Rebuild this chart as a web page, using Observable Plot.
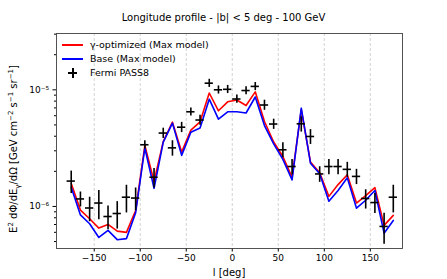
<!DOCTYPE html>
<html><head><meta charset="utf-8">
<script src="https://cdn.jsdelivr.net/npm/d3@7"></script>
<script src="https://cdn.jsdelivr.net/npm/@observablehq/plot@0.6"></script>
<style>
body{margin:0;background:#fff;font-family:"DejaVu Sans",sans-serif;color:#000;}
#wrap{position:relative;width:447px;height:279px;overflow:hidden;}
#title{position:absolute;left:0;width:447px;top:12px;text-align:center;font-size:10px;line-height:12px;white-space:nowrap;}
#ylab{position:absolute;left:14px;top:149px;transform:translate(-50%,-50%) rotate(-90deg);font-size:10px;white-space:nowrap;line-height:12px;}
#xlab{position:absolute;left:229px;top:272px;transform:translate(-50%,-50%);font-size:10px;white-space:nowrap;}
#legend{position:absolute;left:62px;top:38px;font-size:9.5px;line-height:14px;}
.row{position:relative;height:14px;padding-left:28px;white-space:nowrap;}
.ln{position:absolute;left:0;top:6px;width:21px;height:2px;}
.cross{position:absolute;left:6px;top:2px;width:9px;height:10px;}
.cross:before{content:"";position:absolute;left:3.5px;top:0;width:2px;height:10px;background:#000;}
.cross:after{content:"";position:absolute;left:0;top:4px;width:9px;height:2px;background:#000;}
sup,sub{font-size:70%;line-height:0;}
</style></head>
<body>
<div id="wrap">
<div id="title">Longitude profile - |b| &lt; 5 deg - 100 GeV</div>
<div id="chart"></div>
<div id="ylab">E<sup>2</sup> dΦ/dE<sub>γ</sub>/dΩ [GeV cm<sup>−2</sup> s<sup>−1</sup> sr<sup>−1</sup>]</div>
<div id="xlab">l [deg]</div>
<div id="legend">
<div class="row"><span class="ln" style="background:#ff0000"></span>γ-optimized (Max model)</div>
<div class="row"><span class="ln" style="background:#0000ff"></span>Base (Max model)</div>
<div class="row"><span class="cross"></span>Fermi PASS8</div>
</div>
</div>
<script>
const lon = [-175,-165,-155,-145,-135,-125,-115,-105,-95,-85,-75,-65,-55,-45,-35,-25,-15,-5,5,15,25,35,45,55,65,75,85,95,105,115,125,135,145,155,165,175];
const fermi = [1.65e-6,1.16e-6,9.7e-7,1.07e-6,8.2e-7,8.7e-7,1.20e-6,1.18e-6,3.38e-6,1.78e-6,4.26e-6,3.18e-6,4.78e-6,6.48e-6,5.51e-6,1.14e-5,1.0e-5,1.01e-5,8.34e-6,9.86e-6,1.07e-5,7.41e-6,5.09e-6,3.06e-6,2.20e-6,5.11e-6,3.98e-6,1.90e-6,2.20e-6,2.20e-6,2.08e-6,1.81e-6,1.17e-6,1.08e-6,6.74e-7,1.20e-6];
const fermiErr = [3.6e-7,1.7e-7,2.3e-7,3.0e-7,1.9e-7,2.3e-7,3.2e-7,2.6e-7,2.7e-7,3.4e-7,4.3e-7,4.8e-7,4.8e-7,5.2e-7,5.5e-7,9.1e-7,8.0e-7,8.1e-7,6.7e-7,7.9e-7,8.6e-7,7.4e-7,5.1e-7,4.5e-7,3.3e-7,7.7e-7,5.8e-7,2.9e-7,3.3e-7,3.3e-7,3.1e-7,2.7e-7,2.2e-7,2.1e-7,2.0e-7,3.2e-7];
const gammaOpt = [1.57e-6,9.3e-7,7.85e-7,6.52e-7,7.01e-7,6.14e-7,5.99e-7,9.24e-7,3.33e-6,1.64e-6,3.60e-6,5.28e-6,2.93e-6,4.51e-6,5.32e-6,9.39e-6,6.61e-6,7.89e-6,8.18e-6,7.33e-6,9.61e-6,5.35e-6,3.57e-6,2.68e-6,1.78e-6,6.75e-6,2.40e-6,1.94e-6,1.22e-6,1.54e-6,1.87e-6,1.07e-6,1.24e-6,1.45e-6,6.88e-7,8.38e-7];
const base = [1.46e-6,8.46e-7,7.11e-7,5.42e-7,6.23e-7,5.19e-7,5.30e-7,8.83e-7,3.17e-6,1.43e-6,3.56e-6,5.18e-6,2.74e-6,4.33e-6,4.71e-6,8.31e-6,5.60e-6,6.48e-6,6.48e-6,6.33e-6,8.68e-6,4.94e-6,3.44e-6,2.53e-6,1.69e-6,6.96e-6,2.35e-6,1.91e-6,1.11e-6,1.37e-6,1.76e-6,9.67e-7,1.13e-6,1.37e-6,5.90e-7,7.59e-7];
const xTicks = [-150,-100,-50,0,50,100,150];
const yMajor = [1e-6,1e-5];
const yMajorLabels = ["10\u207B\u2076","10\u207B\u2075"];
const yMinor = [5e-7,6e-7,7e-7,8e-7,9e-7,2e-6,3e-6,4e-6,5e-6,6e-6,7e-6,8e-6,9e-6,2e-5,3e-5];

const rows = lon.map((l,i)=>({l, f:fermi[i], e:fermiErr[i], g:gammaOpt[i], b:base[i]}));

const chart = Plot.plot({
  width:447, height:279,
  marginTop:33, marginBottom:31, marginLeft:56, marginRight:45,
  style:{fontFamily:"DejaVu Sans", fontSize:"9px", color:"#000", background:"transparent"},
  x:{domain:[-191,185]},
  y:{type:"log", domain:[4.36e-7,3.04e-5]},
  marks:[
    Plot.gridX(xTicks,{stroke:"#b0b0b0", strokeOpacity:0.7, strokeDasharray:"3,2", strokeWidth:0.8}),
    Plot.line(rows,{x:"l", y:"g", stroke:"#ff0000", strokeWidth:1.6}),
    Plot.line(rows,{x:"l", y:"b", stroke:"#0000ff", strokeWidth:1.6}),
    Plot.ruleX(rows,{x:"l", y1:d=>d.f-d.e, y2:d=>d.f+d.e, stroke:"#000", strokeWidth:1.6}),
    Plot.ruleY(rows,{y:"f", x1:d=>d.l-4.5, x2:d=>d.l+4.5, stroke:"#000", strokeWidth:1.6}),
    Plot.axisX(xTicks,{tickSize:3.5, tickPadding:3, label:null, fontSize:9, tickFormat:d=>d<0?"\u2212"+Math.abs(d):String(d)}),
    Plot.axisY(yMajor,{tickSize:3.5, tickPadding:4, label:null, fontSize:9, tickFormat:d=>yMajorLabels[yMajor.indexOf(d)]}),
    Plot.axisY(yMinor,{tickSize:2, label:null, tickFormat:()=>""}),
    Plot.frame({stroke:"#404040", strokeWidth:0.9})
  ]
});
document.getElementById("chart").appendChild(chart);
</script>
</body></html>
